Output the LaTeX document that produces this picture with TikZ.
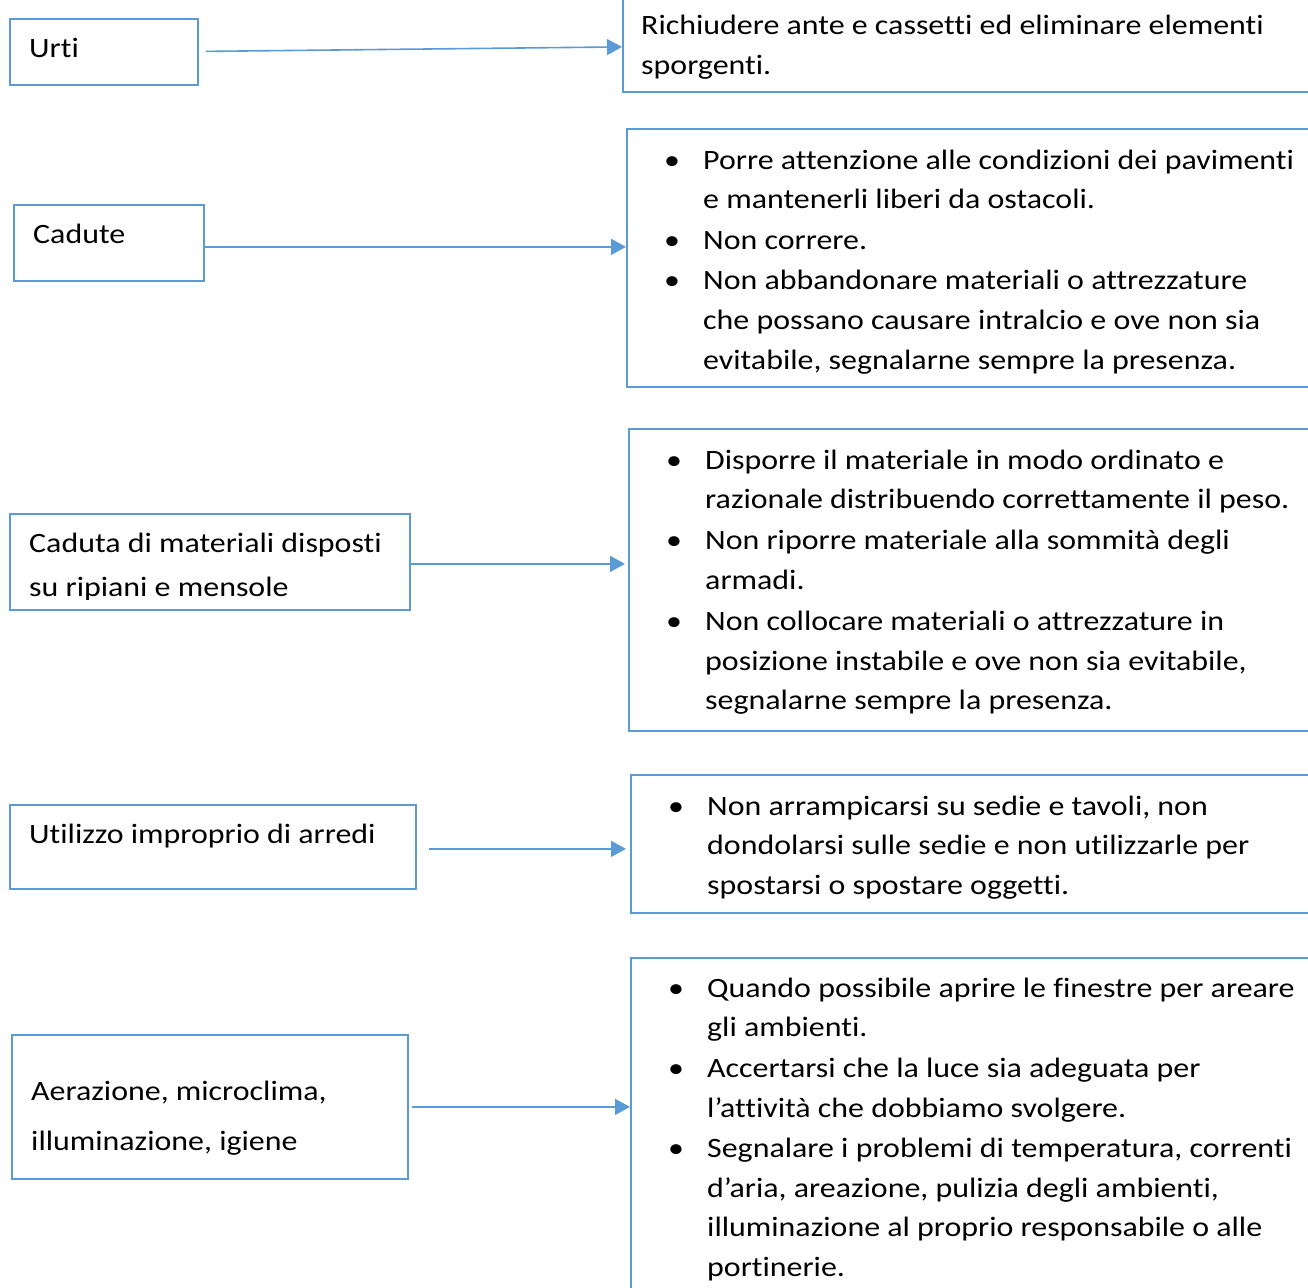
\documentclass[tikz,border=0pt]{standalone}
\usepackage{fontspec}
\setmainfont{Carlito}[Ligatures=NoCommon, FakeStretch=1.14]
\usetikzlibrary{arrows.meta}
\definecolor{officeblue}{HTML}{5B9BD5}

% bullet hanging to the left of a list line
\newcommand\bul{\leavevmode\llap{\makebox[39pt][l]{\textbullet}}}
% multi-line text block whose baseline is the first line
\newcommand\lines[2][700pt]{\parbox[t]{#1}{\raggedright #2}}

\tikzset{
  box/.style={draw=officeblue, line width=1.8pt, rectangle, inner sep=0pt, anchor=north west},
  link/.style={draw=officeblue, line width=1.6pt, -{Triangle[length=15pt,width=16pt]}},
  txt/.style={anchor=base west, inner sep=0pt, font=\fontsize{28}{39.8}\selectfont},
}

\begin{document}
\begin{tikzpicture}[x=1pt, y=-1pt]
\clip (0,0) rectangle (1308,1287);
\fill[white] (0,0) rectangle (1308,1287);

% hazard boxes (left column)
\node[box, minimum width=188pt, minimum height=66pt]  (urti)    at (9,18)   {};
\node[box, minimum width=190pt, minimum height=76pt]  (cadute)  at (13,204) {};
\node[box, minimum width=400pt, minimum height=96pt]  (materiali) at (9,513) {};
\node[box, minimum width=406pt, minimum height=84pt]  (arredi)  at (9,804)  {};
\node[box, minimum width=396pt, minimum height=144pt] (aria)    at (11,1034) {};

% measure boxes (right column, running past the right edge)
\node[box, minimum width=708pt, minimum height=101pt] (m1) at (622,-10) {};
\node[box, minimum width=704pt, minimum height=258pt] (m2) at (626,128) {};
\node[box, minimum width=702pt, minimum height=302pt] (m3) at (628,428) {};
\node[box, minimum width=700pt, minimum height=138pt] (m4) at (630,774) {};
\node[box, minimum width=700pt, minimum height=343pt] (m5) at (630,957) {};

% hazard labels
\node[txt] (urtiT)   at (29,58)  {Urti};
\node[txt] (caduteT) at (33,243) {Cadute};
\begin{scope}
  \clip (9,513) rectangle (409,599);
  \node[txt, font=\fontsize{28}{44}\selectfont] (materialiT) at (29,552)
    {\lines[375pt]{Caduta di materiali disposti\\ su ripiani e mensole}};
\end{scope}
\node[txt] (arrediT) at (29,843) {Utilizzo improprio di arredi};
\node[txt, font=\fontsize{28}{50}\selectfont] (ariaT) at (31,1100)
  {\lines[370pt]{Aerazione, microclima,\\ illuminazione, igiene}};

% measure texts
\node[txt] (m1T) at (641,35)
  {\lines{Richiudere ante e cassetti ed eliminare elementi\\ sporgenti.}};
\node[txt] (m2T) at (703,169)
  {\lines{\bul Porre attenzione alle condizioni dei pavimenti\\
   e mantenerli liberi da ostacoli.\\[1pt]
   \bul Non correre.\\
   \bul Non abbandonare materiali o attrezzature\\
   che possano causare intralcio e ove non sia\\
   evitabile, segnalarne sempre la presenza.}};
\node[txt] (m3T) at (705,469)
  {\lines{\bul Disporre il materiale in modo ordinato e\\
   razionale distribuendo correttamente il peso.\\[1pt]
   \bul Non riporre materiale alla sommità degli\\
   armadi.\\[1pt]
   \bul Non collocare materiali o attrezzature in\\
   posizione instabile e ove non sia evitabile,\\
   segnalarne sempre la presenza.}};
\node[txt] (m4T) at (707,815)
  {\lines{\bul Non arrampicarsi su sedie e tavoli, non\\
   dondolarsi sulle sedie e non utilizzarle per\\
   spostarsi o spostare oggetti.}};
\node[txt] (m5T) at (707,997)
  {\lines{\bul Quando possibile aprire le finestre per areare\\
   gli ambienti.\\[1pt]
   \bul Accertarsi che la luce sia adeguata per\\
   l’attività che dobbiamo svolgere.\\
   \bul Segnalare i problemi di temperatura, correnti\\
   d’aria, areazione, pulizia degli ambienti,\\
   illuminazione al proprio responsabile o alle\\
   portinerie.}};

% connectors
\draw[link] ([xshift=7pt, yshift=0.5pt]urti.east) -- ([yshift=-5.5pt]m1.west);
\draw[link] ([yshift=-4pt]cadute.east) -- ([yshift=11pt]m2.west);
\draw[link] ([yshift=-2pt]materiali.east) -- ([xshift=-3pt, yshift=16pt]m3.west);
\draw[link] ([xshift=12pt, yshift=-2pt]arredi.east) -- ([xshift=-4pt, yshift=-5pt]m4.west);
\draw[link] ([xshift=3pt]aria.east) -- ([yshift=22.5pt]m5.west);
\end{tikzpicture}
\end{document}
